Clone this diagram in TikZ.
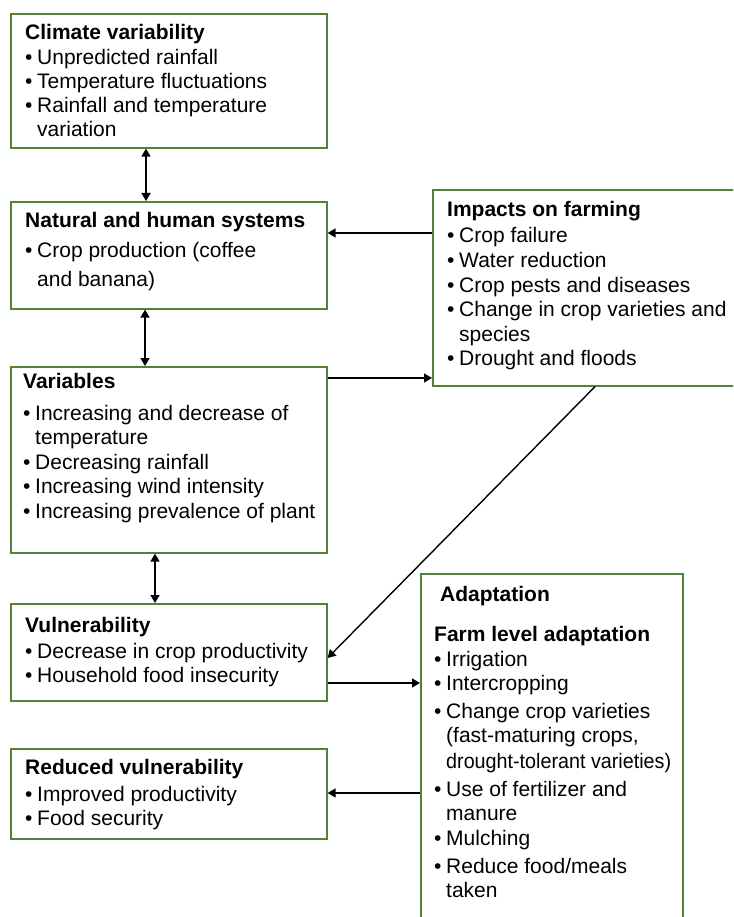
\documentclass[tikz,border=0pt]{standalone}
\usepackage{fontspec}
\setmainfont{Liberation Sans}
\usetikzlibrary{arrows.meta}
\definecolor{boxgreen}{RGB}{84,130,53}
\newcommand{\bl}{\makebox[12pt][l]{\textbullet}}
\newcommand{\cn}{\hspace*{12pt}}
\begin{document}
\begin{tikzpicture}[x=1pt,y=-1pt,
  box/.style={draw=boxgreen, line width=1.6pt, anchor=north west, inner sep=0pt},
  txt/.style={anchor=base west, inner sep=0pt, font=\fontsize{21}{24}\selectfont},
  tip/.tip={Triangle[length=8pt,width=9pt]},
  con/.style={line width=1.4pt, -tip},
  bicon/.style={line width=1.4pt, tip-tip}]
\useasboundingbox (0,0) rectangle (733,917);
\clip (0,0) rectangle (733,917);

% boxes
\node[box, minimum width=316pt, minimum height=134pt] (cv) at (10,13) {};
\node[box, minimum width=316pt, minimum height=107pt] (nh) at (10,201) {};
\node[box, minimum width=316pt, minimum height=186pt] (var) at (10,366) {};
\node[box, minimum width=316pt, minimum height=97pt] (vul) at (10,603) {};
\node[box, minimum width=316pt, minimum height=90pt] (red) at (10,748) {};
\node[box, minimum width=330pt, minimum height=196pt] (imp) at (432,189) {};
\node[box, minimum width=262pt, minimum height=380pt] (ad) at (420,573) {};

% texts
\node[txt] (cvt) at (25,40) {\begin{tabular}[t]{@{}l@{}}\textbf{Climate variability}\\[1pt]
 \bl Unpredicted rainfall\\
 \bl Temperature fluctuations\\
 \bl Rainfall and temperature\\
 \cn variation\end{tabular}};

\node[txt] (nht) at (25,227) {\begin{tabular}[t]{@{}l@{}}\textbf{Natural and human systems}\\[6pt]
 \bl Crop production (coffee\\[5pt]
 \cn and banana)\end{tabular}};

\node[txt] (vart) at (23,388) {\begin{tabular}[t]{@{}l@{}}\textbf{Variables}\\[8pt]
 \bl Increasing and decrease of\\
 \cn temperature\\[1pt]
 \bl Decreasing rainfall\\
 \bl Increasing wind intensity\\[1pt]
 \bl Increasing prevalence of plant\end{tabular}};

\node[txt] (impt) at (447,217) {\begin{tabular}[t]{@{}l@{}}\textbf{Impacts on farming}\\[2pt]
 \bl Crop failure\\[0.5pt]
 \bl Water reduction\\[0.5pt]
 \bl Crop pests and diseases\\[0.5pt]
 \bl Change in crop varieties and\\[0.5pt]
 \cn species\\[0.5pt]
 \bl Drought and floods\end{tabular}};

\node[txt] (vult) at (25,632) {\begin{tabular}[t]{@{}l@{}}\textbf{Vulnerability}\\[2pt]
 \bl Decrease in crop productivity\\
 \bl Household food insecurity\end{tabular}};

\node[txt] (redt) at (25,774) {\begin{tabular}[t]{@{}l@{}}\textbf{Reduced vulnerability}\\[3pt]
 \bl Improved productivity\\
 \bl Food security\end{tabular}};

\node[txt] (adh) at (440,601) {\textbf{Adaptation}};
\node[txt] (adt) at (434,641) {\begin{tabular}[t]{@{}l@{}}\textbf{Farm level adaptation}\\[1pt]
 \bl Irrigation\\
 \bl Intercropping\\[4pt]
 \bl Change crop varieties\\
 \cn (fast-maturing crops,\\[2pt]
 \cn \scalebox{0.94}[1]{drought-tolerant varieties)}\\[4pt]
 \bl Use of fertilizer and\\
 \cn manure\\[1pt]
 \bl Mulching\\[4pt]
 \bl Reduce food/meals\\
 \cn taken\end{tabular}};

% connectors
\draw[bicon] ([xshift=136pt]cv.south west) -- ([xshift=136pt]nh.north west);
\draw[bicon] ([xshift=135pt]nh.south west) -- ([xshift=135pt]var.north west);
\draw[bicon] ([xshift=145pt]var.south west) -- ([xshift=145pt]vul.north west);
\draw[con] ([yshift=-44pt]imp.north west) -- ([yshift=-44pt]imp.north west -| nh.east);
\draw[con] ([yshift=-12pt]var.north east) -- ([yshift=-12pt]var.north east -| imp.west);
\draw[con] ([xshift=163pt]imp.south west) -- ([yshift=-55pt]vul.north east);
\draw[con] ([yshift=-80pt]vul.north east) -- ([yshift=-80pt]vul.north east -| ad.west);
\draw[con] ([yshift=-45pt]red.north east -| ad.west) -- ([yshift=-45pt]red.north east);
\end{tikzpicture}
\end{document}
